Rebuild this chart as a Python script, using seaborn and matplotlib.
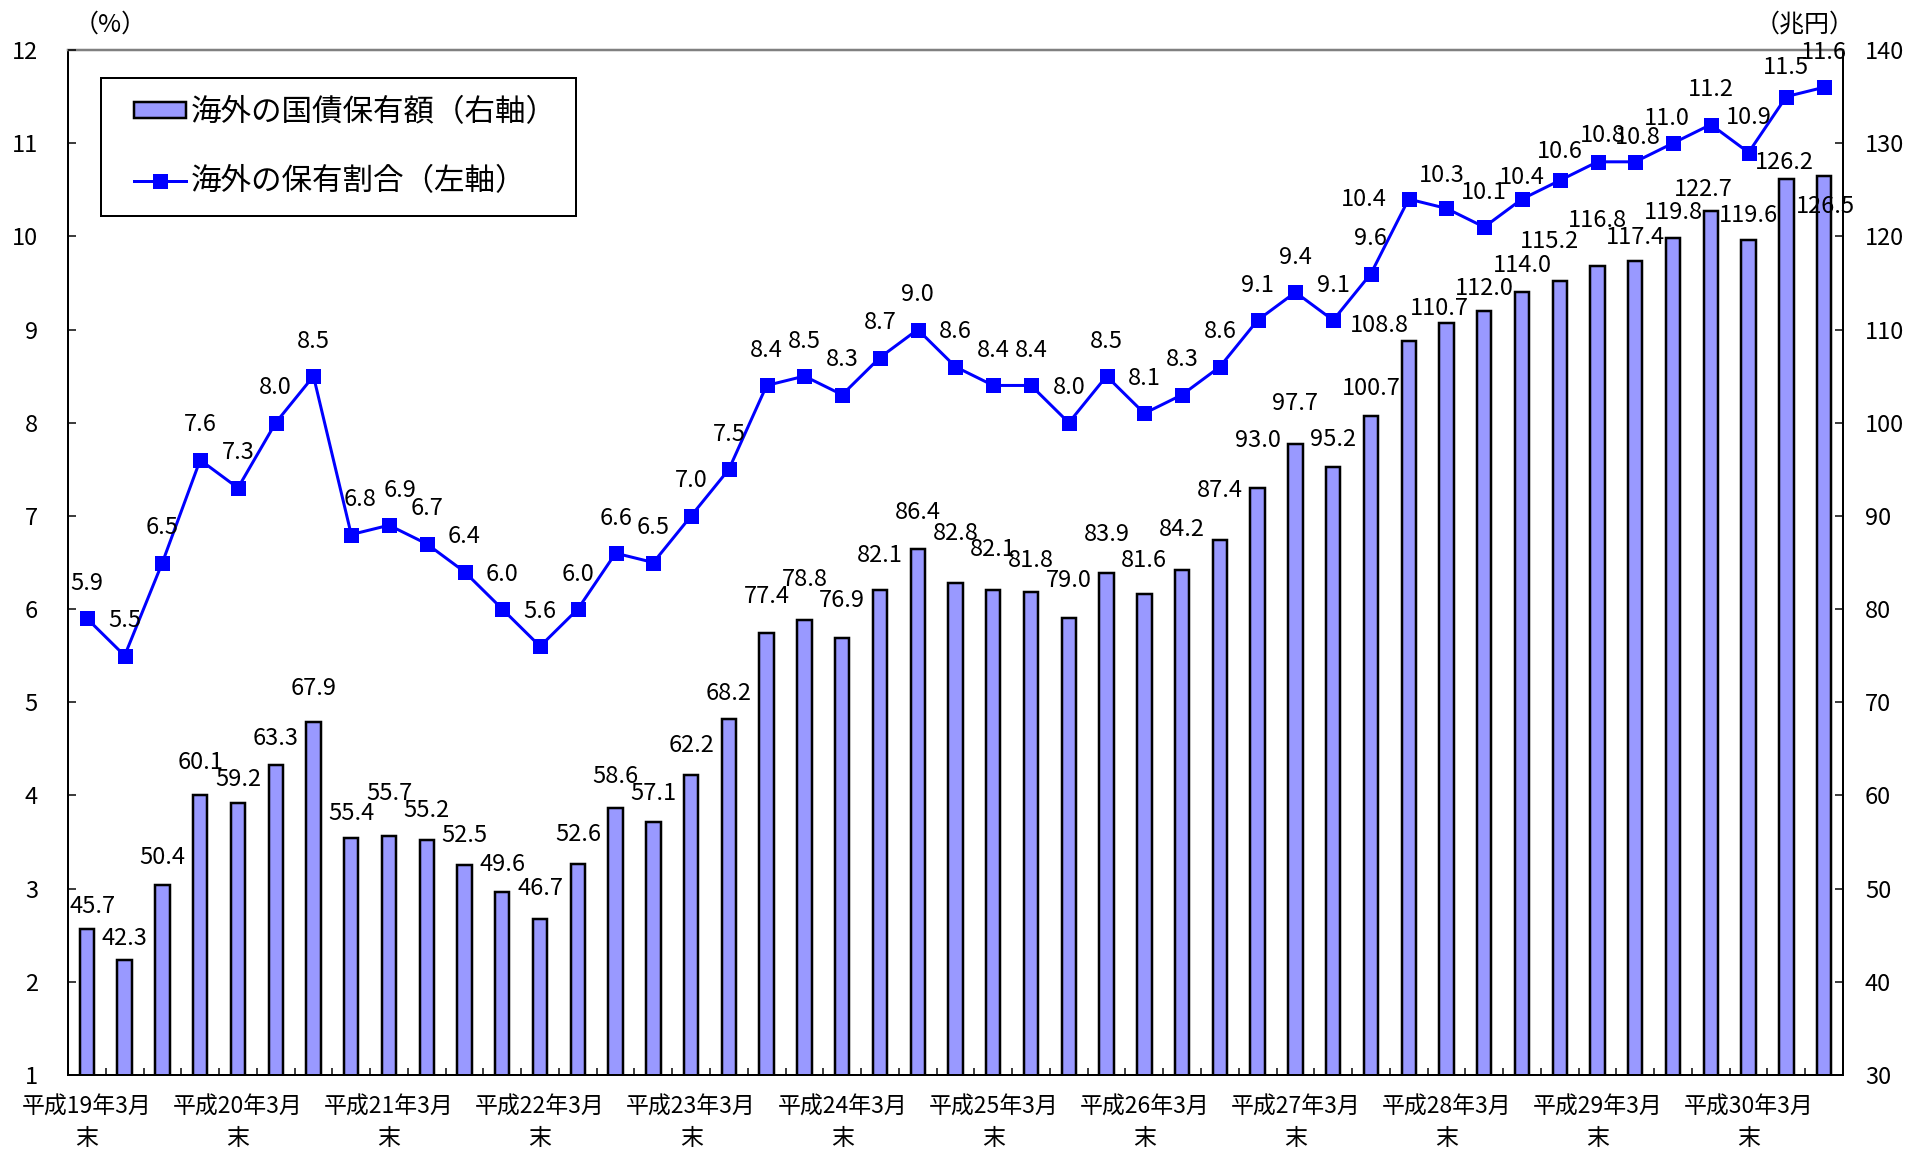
import matplotlib
matplotlib.use("Agg")
import matplotlib.pyplot as plt
import seaborn as sns
import numpy as np
import pandas as pd
from matplotlib.patches import Patch
from matplotlib.lines import Line2D
from matplotlib.legend_handler import HandlerPatch, HandlerLine2D

# ---------------- data ----------------
years = list(range(19, 31))
months = [3, 6, 9, 12]
periods = [f"平成{y}年{m}月末" for y in years for m in months][:47]

amount = [45.7, 42.3, 50.4, 60.1, 59.2, 63.3, 67.9, 55.4, 55.7, 55.2, 52.5, 49.6,
          46.7, 52.6, 58.6, 57.1, 62.2, 68.2, 77.4, 78.8, 76.9, 82.1, 86.4, 82.8,
          82.1, 81.8, 79.0, 83.9, 81.6, 84.2, 87.4, 93.0, 97.7, 95.2, 100.7, 108.8,
          110.7, 112.0, 114.0, 115.2, 116.8, 117.4, 119.8, 122.7, 119.6, 126.2, 126.5]

share = [5.9, 5.5, 6.5, 7.6, 7.3, 8.0, 8.5, 6.8, 6.9, 6.7, 6.4, 6.0,
         5.6, 6.0, 6.6, 6.5, 7.0, 7.5, 8.4, 8.5, 8.3, 8.7, 9.0, 8.6,
         8.4, 8.4, 8.0, 8.5, 8.1, 8.3, 8.6, 9.1, 9.4, 9.1, 9.6, 10.4,
         10.3, 10.1, 10.4, 10.6, 10.8, 10.8, 11.0, 11.2, 10.9, 11.5, 11.6]

tick_labels = ["平成19年3月\n末", "平成20年3月\n末", "平成21年3月\n末", "平成22年3月\n末",
               "平成23年3月\n末", "平成24年3月\n末", "平成25年3月\n末", "平成26年3月\n末",
               "平成27年3月\n末", "平成28年3月\n末", "平成29年3月\n末", "平成30年3月\n末"]

legend_labels = ["海外の国債保有額（右軸）", "海外の保有割合（左軸）"]

df = pd.DataFrame({"period": periods, "amount": amount, "share": share})

# ---------------- style ----------------
plt.rcParams["font.family"] = ["Noto Sans CJK JP", "DejaVu Sans"]
BAR_COLOR = "#9999FF"
LINE_COLOR = "#0000FF"
PX = 0.72  # points per pixel at dpi 100
LBL_FS = 17

fig = plt.figure(figsize=(19.06, 11.49), dpi=100)
W, H = 1906, 1149
L, R, T, B = 68, 1843, 50, 1075
ax = fig.add_axes([L / W, 1 - B / H, (R - L) / W, (B - T) / H])

sns.barplot(data=df, x="period", y="amount", ax=ax, color=BAR_COLOR,
            saturation=1, edgecolor="black", linewidth=2.5 * PX, width=0.38,
            errorbar=None, zorder=2)
ax.set_xlim(-0.5, len(df) - 0.5)
ax.set_ylim(30, 140)
ax.set_yticks(np.arange(30, 141, 10))
ax.set_xlabel("")
ax.set_ylabel("")

ax2 = ax.twinx()
sns.lineplot(x=np.arange(len(df)), y=df["share"], ax=ax2, color=LINE_COLOR,
             linewidth=3 * PX, marker="s", markersize=15 * PX,
             markeredgewidth=0, zorder=3)
ax2.set_ylim(1, 12)
ax2.set_yticks(np.arange(1, 13, 1))
ax2.set_ylabel("")
ax2.set_xlim(-0.5, len(df) - 0.5)

# put the amount axis on the right, the share axis on the left
ax.yaxis.tick_right()
ax2.yaxis.tick_left()

# spines
for s in ax2.spines.values():
    s.set_visible(False)
for name in ["left", "right", "bottom"]:
    ax.spines[name].set_color("black")
    ax.spines[name].set_linewidth(2 * PX)
ax.spines["top"].set_color("#808080")
ax.spines["top"].set_linewidth(2.5 * PX)

# x ticks
ax.set_xticks(np.arange(0, len(df), 4))
ax.set_xticklabels(tick_labels, fontsize=16.5, linespacing=1.45)
ax.set_xticks(np.arange(0.5, len(df) - 1, 1), minor=True)
ax.tick_params(axis="x", which="major", length=0, pad=15)
ax.tick_params(axis="x", which="minor", direction="in", length=7 * PX,
               width=1.5 * PX, color="black")
# y ticks
ax.tick_params(axis="y", which="major", direction="in", length=8 * PX,
               width=1.5 * PX, labelsize=LBL_FS, pad=22 * PX,
               right=True, labelright=True, left=False, labelleft=False)
ax2.tick_params(axis="y", which="major", direction="in", length=8 * PX,
                width=1.5 * PX, labelsize=LBL_FS, pad=30 * PX,
                left=True, labelleft=True, right=False, labelright=False)
ax2.tick_params(axis="x", which="both", length=0, labelbottom=False)

# ---------------- data labels ----------------
bar_dy = [22, 22, 27, 32, 23, 26, 33, 25, 42, 30, 30, 28,
          31, 30, 32, 29, 29, 26, 37, 41, 37, 34, 37, 49,
          40, 32, 38, 38, 34, 40, 50, 47, 41, 28, 28, 15,
          15, 22, 27, 40, 46, 23, 26, 22, 25, 16, -31]
bar_dx = {0: 6, 35: -29, 36: -7, 39: -10, 43: -8, 45: -2, 46: 1}
for i, v in enumerate(df["amount"]):
    ax.annotate(f"{v:.1f}", xy=(i, v), xytext=(bar_dx.get(i, 0) * PX, bar_dy[i] * PX),
                textcoords="offset points", ha="center", va="center",
                fontsize=LBL_FS, color="black", zorder=5)

line_off = {7: (9, 35), 8: (11, 35), 35: (-45, 0), 36: (-5, 33), 38: (0, 22),
            39: (0, 29), 40: (5, 26), 41: (3, 24), 42: (-6, 25), 45: (0, 29)}
for i, v in enumerate(df["share"]):
    dx, dy = line_off.get(i, (0, 35))
    ax2.annotate(f"{v:.1f}", xy=(i, v), xytext=(dx * PX, dy * PX),
                 textcoords="offset points", ha="center", va="center",
                 fontsize=LBL_FS, color="black", zorder=5)

# ---------------- legend ----------------
handles = [Patch(facecolor=BAR_COLOR, edgecolor="black", linewidth=2.5 * PX),
           Line2D([], [], color=LINE_COLOR, linewidth=3 * PX, marker="s",
                  markersize=15 * PX, markeredgewidth=0)]
leg = ax2.legend(handles, legend_labels, loc="upper left",
                 bbox_to_anchor=((101 - L) / (R - L), 1 - (78 - T) / (B - T)),
                 borderaxespad=0, fontsize=22, frameon=True, fancybox=False,
                 edgecolor="black", framealpha=1, borderpad=0.62,
                 labelspacing=1.25, handlelength=2.16, handleheight=0.45,
                 handletextpad=0.16,
                 handler_map={Patch: HandlerPatch(xpad=0.46),
                              Line2D: HandlerLine2D(xpad=0.46, numpoints=1)})
leg.get_frame().set_linewidth(2 * PX)
leg.set_zorder(10)

# axis unit labels
fig.text(110 / W, 1 - 25 / H, "（%）", ha="center", va="center", fontsize=18)
fig.text(1805 / W, 1 - 25 / H, "（兆円）", ha="center", va="center", fontsize=18)

fig.savefig("out.png", dpi=100)
